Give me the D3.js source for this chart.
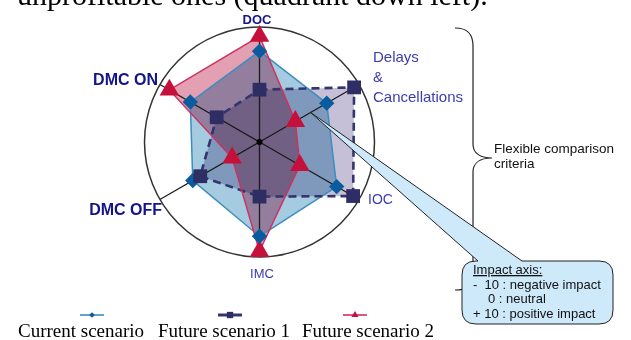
<!DOCTYPE html>
<html>
<head>
<meta charset="utf-8">
<script src="https://cdn.jsdelivr.net/npm/d3@7"></script>
<style>
  body { margin: 0; background: #fff; }
  svg { display: block; }
  .area { mix-blend-mode: multiply; }
</style>
</head>
<body>
<div id="wrapper"></div>
<script>
// criteria around the radar, clockwise from the top
const axes = ["DOC", "Delays & Cancellations", "IOC", "IMC", "DMC OFF", "DMC ON"];
// impact values, -10 (centre) .. +10 (outer circle)
const current = [5.8, 3.5, 5.5, 6.4, 3.4, 3.9];
const future1 = [-0.9, 9.0, 8.8, -0.5, 1.9, -1.4];
const future2 = [8.4, -2.8, -1.9, 9.0, -4.5, 8.1];
const seriesNames = ["Current scenario", "Future scenario 1", "Future scenario 2"];
const impactLines = ["-  10 : negative impact", "0 : neutral", "+ 10 : positive impact"];

const width = 631, height = 340;
const cx = 259.5, cy = 142, R = 115;

const svg = d3.select("#wrapper").append("svg")
  .attr("width", width)
  .attr("height", height);

const r = d3.scaleLinear().domain([-10, 10]).range([0, R]);
const step = 2 * Math.PI / axes.length;
const px = (v, i) => cx + r(v) * Math.sin(i * step);
const py = (v, i) => cy - r(v) * Math.cos(i * step);

const series = [
  { name: seriesNames[0], values: current, fill: "#a5cbe0", stroke: "#3d8dc0", sw: 1.5, dash: null, marker: "diamond", color: "#0a5c9e" },
  { name: seriesNames[1], values: future1, fill: "#c5c0d6", stroke: "#34346e", sw: 2.6, dash: "8,5", marker: "square", color: "#2e2e64" },
  { name: seriesNames[2], values: future2, fill: "#e3a0b3", stroke: "#d03060", sw: 1.5, dash: null, marker: "triangle", color: "#c4103a" }
];

// top sentence, cut by the frame
svg.append("text")
  .attr("x", 17).attr("y", 5)
  .attr("font-family", "Liberation Serif, Times New Roman, serif")
  .attr("font-size", 30)
  .attr("fill", "#000")
  .text("unprofitable ones (quadrant down left).");

const g = svg.append("g").attr("transform", `translate(${cx},${cy})`);

const radial = d3.lineRadial()
  .angle((d, i) => i * step)
  .radius(d => r(d))
  .curve(d3.curveLinearClosed);

g.selectAll("path.area")
  .data(series)
  .join("path")
  .attr("class", "area")
  .attr("d", d => radial(d.values))
  .attr("fill", d => d.fill)
  .attr("stroke", "none");

// spokes
g.selectAll("line.spoke")
  .data(axes)
  .join("line")
  .attr("class", "spoke")
  .attr("x1", 0).attr("y1", 0)
  .attr("x2", (d, i) => R * Math.sin(i * step))
  .attr("y2", (d, i) => -R * Math.cos(i * step))
  .attr("stroke", "#1a1a1a")
  .attr("stroke-width", 1.3);

g.selectAll("path.outline")
  .data(series)
  .join("path")
  .attr("class", "outline")
  .attr("d", d => radial(d.values))
  .attr("fill", "none")
  .attr("stroke", d => d.stroke)
  .attr("stroke-width", d => d.sw)
  .attr("stroke-dasharray", d => d.dash);

g.append("circle")
  .attr("r", R)
  .attr("fill", "none")
  .attr("stroke", "#333")
  .attr("stroke-width", 1.5);

g.append("circle").attr("r", 3).attr("fill", "#000");

const symbols = {
  diamond: d3.symbol().type(d3.symbolSquare).size(118)(),
  square: d3.symbol().type(d3.symbolSquare).size(190)(),
  triangle: d3.symbol().type(d3.symbolTriangle).size(165)()
};

// markers: triangles, then diamonds, then squares
[series[2], series[0], series[1]].forEach(s => {
  svg.append("g").selectAll("path")
    .data(s.values)
    .join("path")
    .attr("d", symbols[s.marker])
    .attr("transform", (v, i) => `translate(${px(v, i)},${py(v, i)})` + (s.marker === "diamond" ? " rotate(45)" : ""))
    .attr("fill", s.color);
});

// axis labels
const bold = "Liberation Sans, Arial, sans-serif";
const lab = [
  { t: axes[0], x: 257, y: 24, a: "middle", s: 13, w: "bold", c: "#14148a" },
  { t: "IOC", x: 368, y: 204, a: "start", s: 14, w: "normal", c: "#3c3cb0" },
  { t: axes[3], x: 262, y: 278, a: "middle", s: 13, w: "normal", c: "#3c3cb0" },
  { t: axes[4], x: 162, y: 215, a: "end", s: 16, w: "bold", c: "#14148a" },
  { t: axes[5], x: 158, y: 85, a: "end", s: 16, w: "bold", c: "#14148a" }
];
svg.selectAll("text.lab")
  .data(lab)
  .join("text")
  .attr("class", "lab")
  .attr("x", d => d.x).attr("y", d => d.y)
  .attr("text-anchor", d => d.a)
  .attr("font-family", bold)
  .attr("font-size", d => d.s)
  .attr("font-weight", d => d.w)
  .attr("fill", d => d.c)
  .text(d => d.t);

const delays = svg.append("text")
  .attr("font-family", bold)
  .attr("font-size", 15)
  .attr("fill", "#3c3cb0");
["Delays", "&", "Cancellations"].forEach((t, i) => {
  delays.append("tspan").attr("x", 373).attr("y", 62 + i * 20).text(t);
});

// curly brace
svg.append("path")
  .attr("d", "M455,28 C468,28 473,34 473,46 L473,144 C473,153 480,158 492,158 C480,158 473,163 473,172 L473,276 C473,286 468,290 455,290")
  .attr("fill", "none")
  .attr("stroke", "#222")
  .attr("stroke-width", 1.2);

const flex = svg.append("text")
  .attr("font-family", bold)
  .attr("font-size", 13.5)
  .attr("fill", "#111");
flex.append("tspan").attr("x", 494).attr("y", 153).text("Flexible comparison");
flex.append("tspan").attr("x", 494).attr("y", 168).text("criteria");

// callout balloon
const bx0 = 462, by0 = 261, bx1 = 613, by1 = 324, rr = 14;
const tip = [310, 112];
const call = d3.path();
call.moveTo(bx0 + rr, by0);
call.lineTo(478, by0);
call.lineTo(tip[0], tip[1]);
call.lineTo(522, by0);
call.lineTo(bx1 - rr, by0);
call.quadraticCurveTo(bx1, by0, bx1, by0 + rr);
call.lineTo(bx1, by1 - rr);
call.quadraticCurveTo(bx1, by1, bx1 - rr, by1);
call.lineTo(bx0 + rr, by1);
call.quadraticCurveTo(bx0, by1, bx0, by1 - rr);
call.lineTo(bx0, by0 + rr);
call.quadraticCurveTo(bx0, by0, bx0 + rr, by0);
call.closePath();
svg.append("path")
  .attr("d", call.toString())
  .attr("fill", "#cde9fa")
  .attr("stroke", "#222")
  .attr("stroke-width", 1);

const imp = svg.append("text")
  .attr("font-family", bold)
  .attr("font-size", 13)
  .attr("fill", "#111");
imp.append("tspan").attr("x", 473).attr("y", 274).attr("text-decoration", "underline").text("Impact axis:");
imp.append("tspan").attr("x", 473).attr("y", 289).attr("xml:space", "preserve").style("white-space", "pre").text(impactLines[0]);
imp.append("tspan").attr("x", 488).attr("y", 303).text(impactLines[1]);
imp.append("tspan").attr("x", 473).attr("y", 318).text(impactLines[2]);

// legend
const legX = [18, 158, 302];
const legMark = [92, 230, 355];
const lg = svg.append("g");
series.forEach((s, i) => {
  const m = legMark[i];
  lg.append("line")
    .attr("x1", m - 12).attr("x2", m + 12)
    .attr("y1", 315).attr("y2", 315)
    .attr("stroke", s.stroke)
    .attr("stroke-width", i === 1 ? 3 : 1.6);
  const sym = s.marker === "diamond" ? d3.symbol().type(d3.symbolSquare).size(16)()
    : s.marker === "square" ? d3.symbol().type(d3.symbolSquare).size(40)()
    : d3.symbol().type(d3.symbolTriangle).size(22)();
  lg.append("path")
    .attr("d", sym)
    .attr("transform", `translate(${m},315)` + (s.marker === "diamond" ? " rotate(45)" : ""))
    .attr("fill", s.color);
  lg.append("text")
    .attr("x", legX[i]).attr("y", 337)
    .attr("font-family", "Liberation Serif, Times New Roman, serif")
    .attr("font-size", 19)
    .attr("fill", "#000")
    .text(s.name);
});
</script>
</body>
</html>
